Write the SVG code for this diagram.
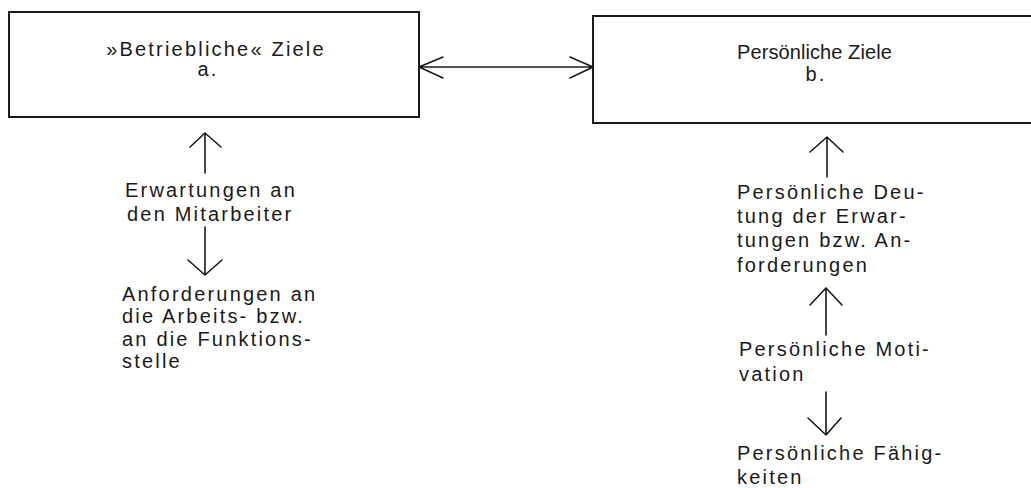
<svg xmlns="http://www.w3.org/2000/svg" width="1031" height="488" viewBox="0 0 1031 488">
<style>
.box{fill:#fff;stroke:#1a1a1a;stroke-width:2}
.t{font-family:"Liberation Sans",Arial,sans-serif;font-size:20px;letter-spacing:2.2px;fill:#1a1a1a}
.m{text-anchor:middle}
.c{fill:none;stroke:#1a1a1a;stroke-width:1.6;stroke-linecap:round;stroke-linejoin:round}
</style>
<rect width="1031" height="488" fill="#fff"/>
<g id="node-a">
<rect class="box" x="9" y="12" width="410" height="105"/>
<text class="t m" x="216" y="56">»Betriebliche« Ziele</text>
<text class="t m" x="208" y="76">a.</text>
</g>
<g id="node-b">
<rect class="box" x="593" y="16" width="445" height="107"/>
<text class="t" x="737" y="59" textLength="157" lengthAdjust="spacing">Persönliche Ziele</text>
<text class="t m" x="816" y="81">b.</text>
</g>
<g id="node-erwartungen">
<text class="t" x="125" y="197">Erwartungen an</text>
<text class="t" x="127" y="221">den Mitarbeiter</text>
</g>
<g id="node-anforderungen">
<text class="t" x="122" y="301">Anforderungen an</text>
<text class="t" x="122" y="323">die Arbeits- bzw.</text>
<text class="t" x="122" y="346">an die Funktions-</text>
<text class="t" x="122" y="368">stelle</text>
</g>
<g id="node-deutung">
<text class="t" x="737" y="199">Persönliche Deu-</text>
<text class="t" x="737" y="223">tung der Erwar-</text>
<text class="t" x="737" y="247">tungen bzw. An-</text>
<text class="t" x="737" y="272">forderungen</text>
</g>
<g id="node-motivation">
<text class="t" x="739" y="356">Persönliche Moti-</text>
<text class="t" x="739" y="381">vation</text>
</g>
<g id="node-faehigkeiten">
<text class="t" x="737" y="460">Persönliche Fähig-</text>
<text class="t" x="737" y="484">keiten</text>
</g>
<g id="connectors">
<path class="c" d="M419 67 H593 M443 57 L419 67 L443 78 M570 57 L593 67 L570 78"/>
<path class="c" d="M205 133 V173 M190 147 L205 133 L221 147"/>
<path class="c" d="M205 227 V275 M188 260 L205 275 L222 260"/>
<path class="c" d="M827 137 V177 M810 152 L827 137 L843 152"/>
<path class="c" d="M826 288 V335 M810 305 L826 288 L842 305"/>
<path class="c" d="M826 392 V435 M808 418 L826 435 L841 418"/>
</g>
</svg>
